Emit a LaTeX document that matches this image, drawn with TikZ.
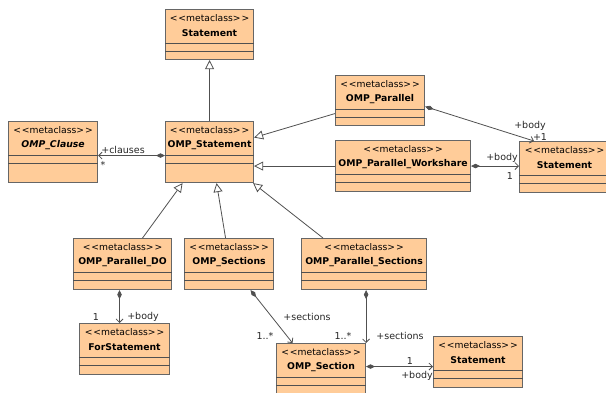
\documentclass[tikz,border=0pt]{standalone}
\usepackage{fontspec}
\setmainfont{DejaVu Sans}[Ligatures={NoCommon}]
\usetikzlibrary{arrows.meta,calc}

\definecolor{clsfill}{HTML}{FFCC99}
\definecolor{clsline}{HTML}{666666}
\definecolor{conline}{HTML}{505050}

\tikzset{
  cls/.style={draw=clsline, line width=1.1pt, fill=clsfill, rectangle, inner sep=0pt},
  cline/.style={draw=conline, line width=0.9pt},
  stereo/.style={inner sep=0pt, font=\fontsize{9.2}{10}\selectfont},
  ctitle/.style={inner sep=0pt, font=\fontsize{9.3}{11}\selectfont\bfseries},
  lbl/.style={inner sep=0pt, font=\fontsize{9.5}{10}\selectfont, text=black!85},
  gen/.style={draw=conline, line width=0.8pt, -{Triangle[open, length=9pt, width=9pt, fill=white]}},
  comp/.style={draw=conline, line width=0.8pt,
    {Diamond[length=9pt, width=4.5pt, fill=conline]}-{Straight Barb[length=3.5pt, width=7pt]}},
}

\newcommand\stereotype{\char`<\kern1pt\char`<metaclass\char`>\kern1pt\char`>}

% class box: name, left, top, width, height, title
\newcommand\umlbox[6]{%
  \node[cls, minimum width=#4pt, minimum height=#5pt, anchor=north west] (#1) at (#2,#3) {};
  \node[stereo] (#1-s) at ([yshift=-9pt]#1.north) {\stereotype};
  \node[ctitle] (#1-t) at ([yshift=-24pt]#1.north) {#6};
  \draw[cline] ([yshift=-34pt]#1.north west) -- ([yshift=-34pt]#1.north east);
  \draw[cline] ([yshift=-42pt]#1.north west) -- ([yshift=-42pt]#1.north east);
}

\begin{document}
\begin{tikzpicture}[x=1pt, y=-1pt]
\useasboundingbox (0,0) rectangle (606,392);
\clip (0,0) rectangle (606,392);

% classes
\umlbox{stTop}{165}{9}{88}{50}{Statement}
\umlbox{clause}{8}{121}{89}{61}{\itshape OMP\_Clause}
\umlbox{ompst}{165}{121}{88}{61}{OMP\_Statement}
\umlbox{par}{335}{75}{89}{50}{OMP\_Parallel}
\umlbox{pws}{335}{140}{135}{51}{OMP\_Parallel\_Workshare}
\umlbox{stR}{519}{141}{90}{51}{Statement}
\umlbox{pdo}{73}{238}{98}{51}{OMP\_Parallel\_DO}
\umlbox{sec}{184}{238}{89}{51}{OMP\_Sections}
\umlbox{psec}{301}{238}{125}{51}{OMP\_Parallel\_Sections}
\umlbox{forst}{79}{323}{90}{51}{ForStatement}
\umlbox{section}{276}{343}{89}{51}{OMP\_Section}
\umlbox{stB}{433}{336}{89}{51}{Statement}

% generalizations
\draw[gen] (ompst.north) -- (stTop.south);
\draw[gen] ([yshift=-13pt]par.west) -- ([yshift=14.5pt]ompst.east);
\draw[gen] (pws.west) -- (pws.west -| ompst.east);
\draw[gen] ([xshift=20pt]pdo.north) -- ([xshift=-27pt]ompst.south);
\draw[gen] ([xshift=-3.5pt]sec.north) -- ([xshift=7pt]ompst.south);
\draw[gen] ([xshift=22pt]psec.north west) -- ([xshift=-1pt]ompst.south east);

% compositions
\draw[comp] ([yshift=-3.5pt]ompst.west) -- ([yshift=-3.5pt]clause.east);
\node[lbl] (l-clauses) at (123,150) {+clauses};
\node[lbl] (l-clstar) at (103,165) {*};

\draw[comp] ([yshift=-6pt]par.east) -- ([xshift=15pt]stR.north west);
\node[lbl] (l-pbody) at (530,126) {+body};
\node[lbl] (l-pone) at (540,137) {+1};

\draw[comp] (pws.east) -- (pws.east -| stR.west);
\node[lbl] (l-wbody) at (502,158) {+body};
\node[lbl] (l-wone) at (510,176) {1};

\draw[comp] ([xshift=-3pt]pdo.south) -- ([xshift=-3pt]pdo.south |- forst.north);
\node[lbl] (l-done) at (96,317) {1};
\node[lbl] (l-dbody) at (143,317) {+body};

\draw[comp] ([xshift=21.5pt]sec.south) -- ([xshift=-28.5pt]section.north);
\node[lbl] (l-ssec) at (307,317) {+sections};
\node[lbl] (l-smult) at (265,336) {1..*};

\draw[comp] (psec.south -| section.north east) -- (section.north east);
\node[lbl] (l-pmult) at (343,336) {1..*};
\node[lbl] (l-psec) at (400,336) {+sections};

\draw[comp] ([yshift=2.5pt]section.east) -- ([yshift=2.5pt]section.east -| stB.west);
\node[lbl] (l-bone) at (410,361) {1};
\node[lbl] (l-bbody) at (417,376) {+body};
\end{tikzpicture}
\end{document}
